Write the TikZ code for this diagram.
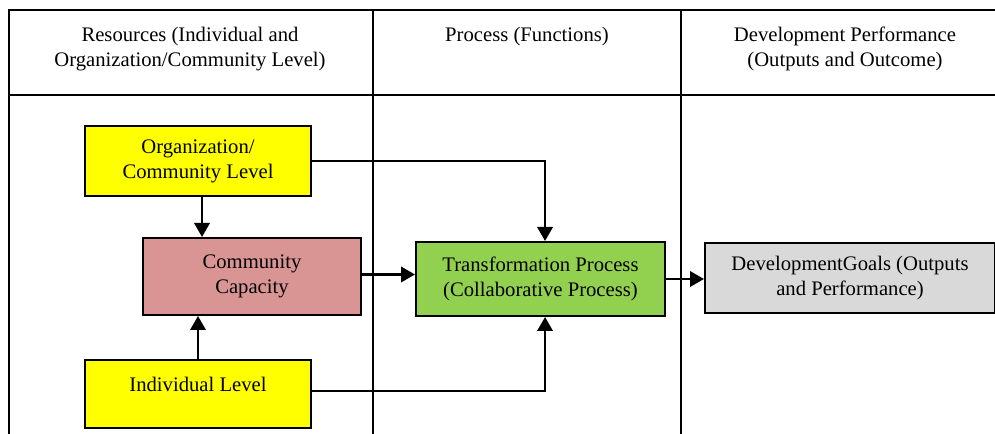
\documentclass[tikz,border=0pt]{standalone}
\usepackage{fontspec}
\setmainfont{Liberation Serif}
\usepackage{xcolor}
\usetikzlibrary{arrows.meta, positioning, calc}
\definecolor{lvlyellow}{HTML}{FFFF00}
\definecolor{caprose}{HTML}{D99594}
\definecolor{procgreen}{HTML}{92D050}
\definecolor{goalgray}{HTML}{D9D9D9}

\begin{document}
\begin{tikzpicture}[
    x=0.75pt, y=-0.75pt,
    font=\fontsize{15.5pt}{18.6pt}\selectfont,
    grid/.style  = {line width=1.5pt, black},
    head/.style  = {anchor=north, inner sep=0pt, align=center},
    box/.style   = {rectangle, draw=black, line width=1.5pt, text centered, align=center},
    level/.style = {box, fill=lvlyellow, minimum width=169.5pt},
    capbox/.style= {box, fill=caprose, minimum width=163.5pt, minimum height=57.75pt},
    proc/.style  = {box, fill=procgreen, minimum width=186.75pt, minimum height=55.5pt},
    goal/.style  = {box, fill=goalgray, minimum width=217.5pt, minimum height=52.5pt},
    arr/.style   = {-{Triangle[length=10.5pt,width=11.5pt]}, line width=1.9pt},
]
\useasboundingbox (0,0) rectangle (995,434);

% ---- table frame ----
\draw[grid] (9,434) -- (9,10) -- (995,10);
\draw[grid] (9,95) -- (995,95);
\draw[grid] (373,10) -- (373,434);
\draw[grid] (681,10) -- (681,434);

% ---- column headings ----
\node[head] (hres)  at (190,27) {Resources (Individual and\\Organization/Community Level)};
\node[head] (hproc) at (527,27) {Process (Functions)};
\node[head] (hperf) at (845,27) {Development Performance\\(Outputs and Outcome)};

% ---- resource boxes ----
\node[level, minimum height=52.5pt] (org)   at (198,161)   {Organization/\\Community Level};
\node[capbox]                       (cap)   at (252,276.5) {Community\\Capacity};
\node[level, minimum height=51pt, text depth=15pt] (indiv) at (198,394) {Individual Level};

% ---- process and goals ----
\node[proc] (trans) at (540.5,279) {Transformation Process\\(Collaborative Process)};
\node[goal] (goals) at (850,278)   {DevelopmentGoals (Outputs\\and Performance)};

% ---- connectors ----
\draw[arr] ([xshift=3pt]org.south) -- ([xshift=3pt]org.south |- cap.north);
\draw[arr] (indiv.north) -- (indiv.north |- cap.south);
\draw[arr] (org.east)    -| ([xshift=3.4pt]trans.north);
\draw[arr] ([yshift=2.4pt]indiv.east) -| ([xshift=3.4pt]trans.south);
\draw[arr] ([yshift=1.5pt]cap.east) -- ([yshift=1.5pt]cap.east -| trans.west);
\draw[arr] (trans.east)  -- (trans.east -| goals.west);

\end{tikzpicture}
\end{document}
